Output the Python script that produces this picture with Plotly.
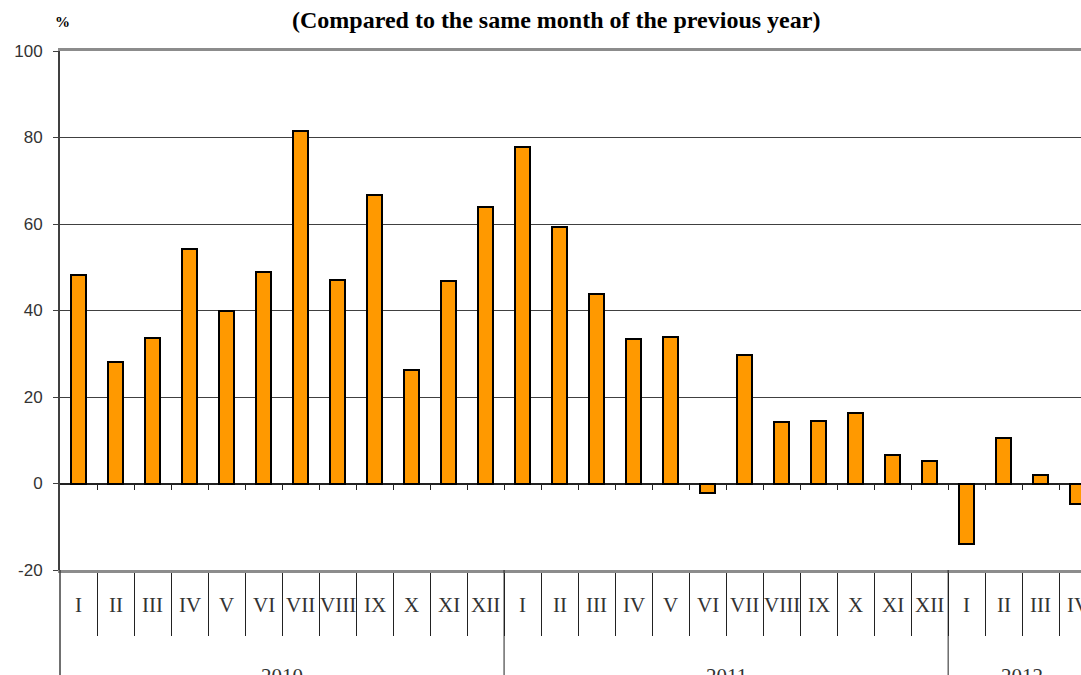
import plotly.graph_objects as go

years = ["2010", "2011", "2012"]
months_2010 = ["I", "II", "III", "IV", "V", "VI", "VII", "VIII", "IX", "X", "XI", "XII"]
months_2011 = ["I", "II", "III", "IV", "V", "VI", "VII", "VIII", "IX", "X", "XI", "XII"]
months_2012 = ["I", "II", "III", "IV"]
values_2010 = [48.3, 28.1, 33.7, 54.2, 39.9, 48.8, 81.4, 47.1, 66.8, 26.3, 46.8, 63.9]
values_2011 = [77.8, 59.2, 43.8, 33.5, 33.8, -2.3, 29.6, 14.2, 14.5, 16.2, 6.7, 5.3]
values_2012 = [-14.0, 10.6, 2.0, -4.8]
y_ticks = [-20, 0, 20, 40, 60, 80, 100]
y_tick_labels = ["-20", "0", "20", "40", "60", "80", "100"]
title_text = "(Compared to the same month of the previous year)"
unit_text = "%"

groups = [(years[0], months_2010, values_2010),
          (years[1], months_2011, values_2011),
          (years[2], months_2012, values_2012)]

labels, values, idx = [], [], []
group_spans = []
i = 0
for yr, ms, vs in groups:
    start = i
    for m, v in zip(ms, vs):
        labels.append(m)
        values.append(v)
        idx.append(i)
        i += 1
    group_spans.append((yr, start, i - 1))

ymin, ymax = y_ticks[0], y_ticks[-1]
xrange_ = [-0.5, 27.09]

fig = go.Figure()
fig.add_trace(go.Bar(
    x=idx, y=values, width=0.4,
    marker=dict(color="#FF9900", line=dict(color="#000000", width=2)),
    showlegend=False, hoverinfo="skip",
))
# invisible trace on xaxis2 for zero-line ticks
fig.add_trace(go.Scatter(x=[idx[0]], y=[0], xaxis="x2", mode="markers",
                         marker=dict(opacity=0), showlegend=False, hoverinfo="skip"))

serif = "Liberation Serif, Times New Roman, serif"
sans = "Liberation Sans, Arial, sans-serif"

annotations = []
for xi, lab in zip(idx, labels):
    annotations.append(dict(x=xi, y=-0.068, xref="x", yref="paper", text=lab,
                            showarrow=False, xanchor="center", yanchor="middle",
                            font=dict(family=serif, size=21, color="#333333")))
shapes = []
for yr, s, e in group_spans:
    annotations.append(dict(x=(s + e) / 2, y=-0.177, xref="x", yref="paper", text=yr,
                            showarrow=False, xanchor="center", yanchor="top",
                            font=dict(family=serif, size=21, color="#333333")))
    if s == 0:
        shapes.append(dict(type="line", xref="x domain", yref="paper", x0=0, x1=0,
                           y0=0, y1=-0.35, line=dict(color="#404040", width=1.5)))
    else:
        shapes.append(dict(type="line", xref="x", yref="paper", x0=s - 0.5, x1=s - 0.5,
                           y0=0, y1=-0.35, line=dict(color="#222222", width=1)))

annotations.append(dict(x=0.486, y=1.0, xref="paper", yref="paper",
                        text="<b>" + title_text + "</b>", showarrow=False,
                        xanchor="center", yanchor="bottom", yshift=16,
                        font=dict(family=serif, size=24, color="#000000")))
annotations.append(dict(x=0.0, y=1.0, xref="paper", yref="paper",
                        text="<b>" + unit_text + "</b>", showarrow=False,
                        xanchor="center", yanchor="bottom", yshift=19, xshift=2,
                        font=dict(family=serif, size=15, color="#000000")))

boundaries = [k + 0.5 for k in idx[:-1]]

fig.update_layout(
    width=1081, height=675,
    margin=dict(l=60, r=0, t=51, b=105),
    paper_bgcolor="white", plot_bgcolor="white",
    bargap=0,
    xaxis=dict(range=xrange_, showgrid=False, zeroline=False,
               showline=True, linecolor="#8c8c8c", linewidth=3, mirror=True,
               tickmode="array", tickvals=boundaries, ticktext=[""] * len(boundaries),
               ticks="outside", ticklen=63, tickcolor="#222222", tickwidth=1,
               showticklabels=False),
    xaxis2=dict(range=xrange_, overlaying="x", anchor="free",
                position=(0 - ymin) / (ymax - ymin), side="bottom",
                showgrid=False, zeroline=False, showline=False,
                tickmode="array", tickvals=boundaries, ticks="outside",
                ticklen=5, tickcolor="#222222", tickwidth=1, showticklabels=False),
    yaxis=dict(range=[ymin, ymax], tickmode="array", tickvals=y_ticks,
               ticktext=y_tick_labels,
               showgrid=True, gridcolor="#404040", gridwidth=1,
               zeroline=True, zerolinecolor="#222222", zerolinewidth=1.5,
               showline=True, linecolor="#404040", linewidth=2,
               ticks="outside", ticklen=5, tickcolor="#404040", tickwidth=1,
               ticklabelstandoff=7,
               tickfont=dict(family=sans, size=17, color="#333333")),
    annotations=annotations,
    shapes=shapes,
)

fig.write_html("out.html", config={"displayModeBar": False},
               post_script="document.body.style.margin='0';")
